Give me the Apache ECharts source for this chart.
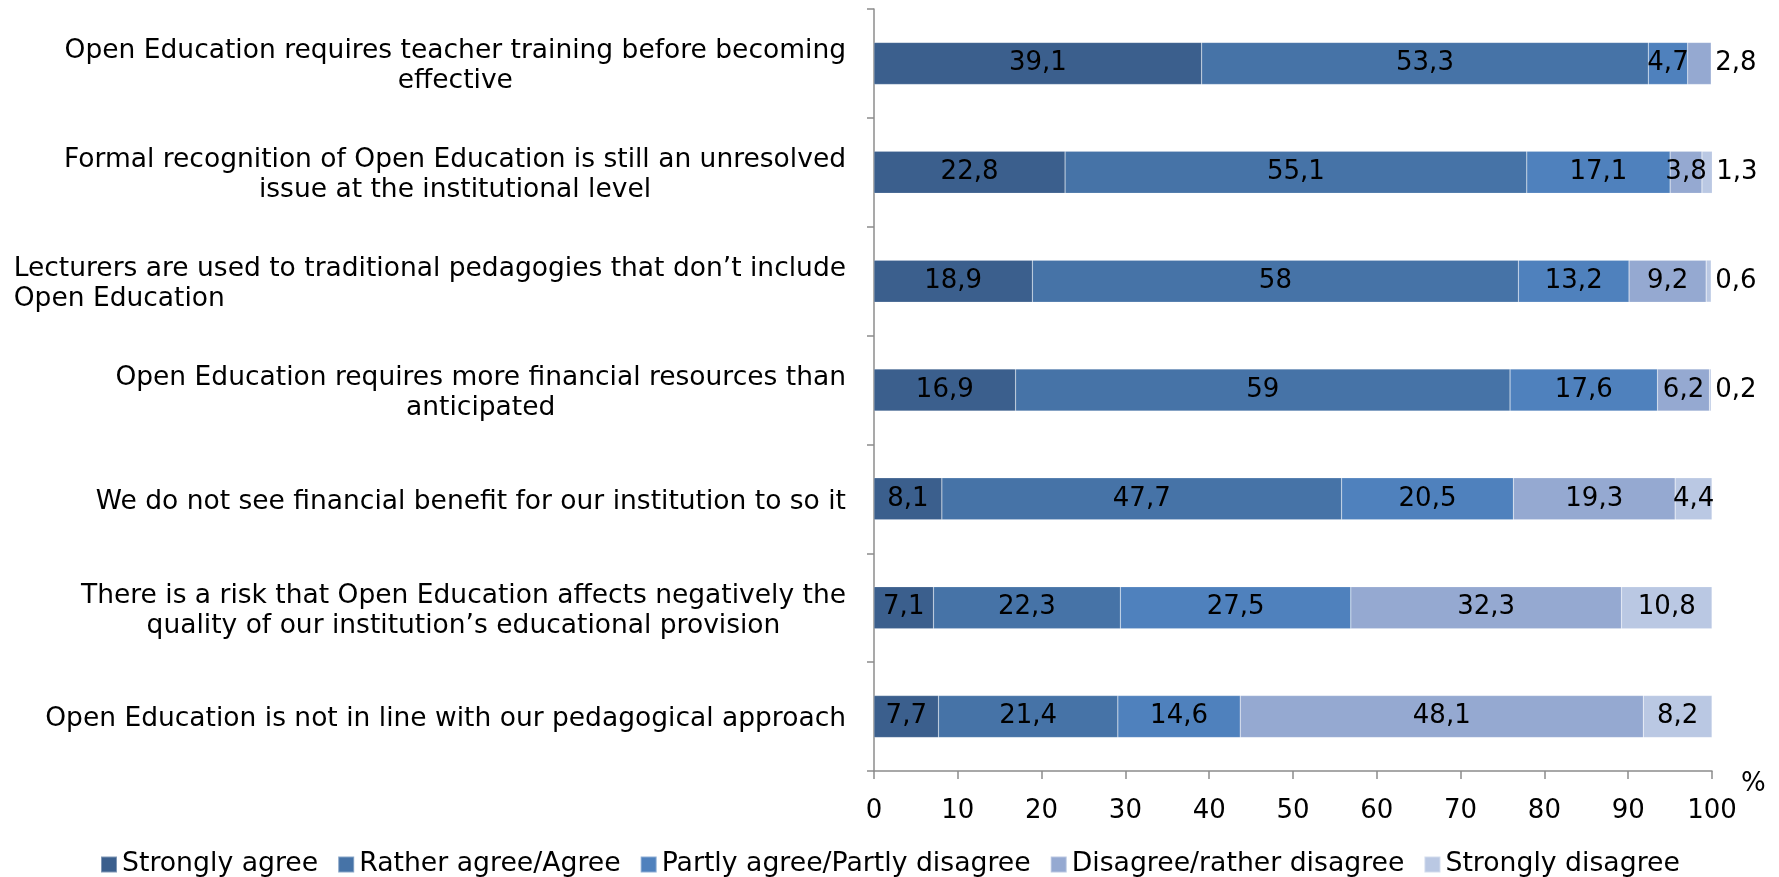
<!DOCTYPE html>
<html lang="en">
<head>
    <meta charset="UTF-8">
    <title>Open Education</title>
    <script src="https://cdn.jsdelivr.net/npm/echarts@6/dist/echarts.min.js"></script>
    <style>
        html, body { margin: 0; padding: 0; background: #fff; }
        #main { width: 1779px; height: 877px; }
    </style>
</head>
<body>
    <div id="main"></div>
    <script>
        // categories, top to bottom
        var categories = [
            'Open Education requires teacher training before becoming\neffective',
            'Formal recognition of Open Education is still an unresolved\nissue at the institutional level',
            'Lecturers are used to traditional pedagogies that don\u2019t include\nOpen Education',
            'Open Education requires more financial resources than\nanticipated',
            'We do not see financial benefit for our institution to so it',
            'There is a risk that Open Education affects negatively the\nquality of our institution\u2019s educational provision',
            'Open Education is not in line with our pedagogical approach'
        ];
        var seriesNames = ['Strongly agree', 'Rather agree/Agree', 'Partly agree/Partly disagree', 'Disagree/rather disagree', 'Strongly disagree'];
        var stronglyAgree = [39.1, 22.8, 18.9, 16.9, 8.1, 7.1, 7.7];
        var ratherAgree = [53.3, 55.1, 58, 59, 47.7, 22.3, 21.4];
        var partlyAgree = [4.7, 17.1, 13.2, 17.6, 20.5, 27.5, 14.6];
        var disagree = [2.8, 3.8, 9.2, 6.2, 19.3, 32.3, 48.1];
        var stronglyDisagree = [null, 1.3, 0.6, 0.2, 4.4, 10.8, 8.2];
        var xTicks = [0, 10, 20, 30, 40, 50, 60, 70, 80, 90, 100];

        var colors = ['#3b5f8d', '#4673a7', '#4f81bd', '#95a9d1', '#bac8e3'];
        var font = '"DejaVu Sans", Verdana, sans-serif';
        var allData = [stronglyAgree, ratherAgree, partlyAgree, disagree, stronglyDisagree];

        var myChart = echarts.init(document.getElementById('main'));

        var series = allData.map(function (arr, i) {
            return {
                name: seriesNames[i],
                type: 'bar',
                stack: 'total',
                barWidth: 42,
                itemStyle: { color: colors[i], borderColor: 'rgba(255,255,255,0.35)', borderWidth: 0.5 },
                label: {
                    show: true,
                    position: 'inside',
                    color: '#000',
                    fontFamily: font,
                    fontSize: 26,
                    formatter: function (p) { return p.value == null ? '' : String(p.value).replace('.', ','); }
                },
                data: arr.map(function (v) {
                    // tiny slices get their label outside on the right
                    if (v != null && v < 3) {
                        return { value: v, label: { position: 'right', distance: 4 } };
                    }
                    return v;
                })
            };
        });

        var option = {
            animation: false,
            textStyle: { fontFamily: font },
            grid: { left: 874, right: 67, top: 9, bottom: 106, containLabel: false },
            legend: {
                top: 846,
                left: 95,
                itemWidth: 16,
                itemHeight: 16,
                itemGap: 19,
                icon: 'rect',
                textStyle: { fontFamily: font, fontSize: 26.7, color: '#000', padding: [0, 0, 0, 0] },
                data: seriesNames
            },
            xAxis: {
                type: 'value',
                min: 0,
                max: 100,
                interval: 10,
                name: '%',
                nameLocation: 'end',
                nameGap: 29,
                nameTextStyle: { fontFamily: font, fontSize: 26, color: '#000', verticalAlign: 'top' },
                axisLine: { show: true, lineStyle: { color: '#8c8c8c', width: 1.5 } },
                axisTick: { show: true, length: 8, lineStyle: { color: '#8c8c8c', width: 1.5 } },
                splitLine: { show: false },
                axisLabel: {
                    margin: 27,
                    fontFamily: font,
                    fontSize: 26,
                    color: '#000',
                    formatter: function (v) { return xTicks.indexOf(v) >= 0 ? String(v) : ''; }
                }
            },
            yAxis: {
                type: 'category',
                inverse: true,
                data: categories,
                axisLine: { show: true, lineStyle: { color: '#8c8c8c', width: 1.5 } },
                axisTick: { show: true, length: 7, lineStyle: { color: '#8c8c8c', width: 1.5 } },
                axisLabel: {
                    margin: 28,
                    color: '#000',
                    fontFamily: font,
                    fontSize: 26.5,
                    lineHeight: 30,
                    padding: [6, 0, 0, 0],
                    formatter: function (v) {
                        var lines = v.split('\n');
                        return lines.map(function (l, k) {
                            var st = (v.indexOf('Lecturers') === 0 && k === 1) ? 'l' : 'c';
                            return '{' + st + '|' + l + '}';
                        }).join('\n');
                    },
                    rich: {
                        c: { align: 'center', fontFamily: font, fontSize: 26.5, lineHeight: 30, color: '#000' },
                        l: { align: 'left', fontFamily: font, fontSize: 26.5, lineHeight: 30, color: '#000' }
                    }
                }
            },
            series: series
        };

        myChart.setOption(option);
    </script>
</body>
</html>
